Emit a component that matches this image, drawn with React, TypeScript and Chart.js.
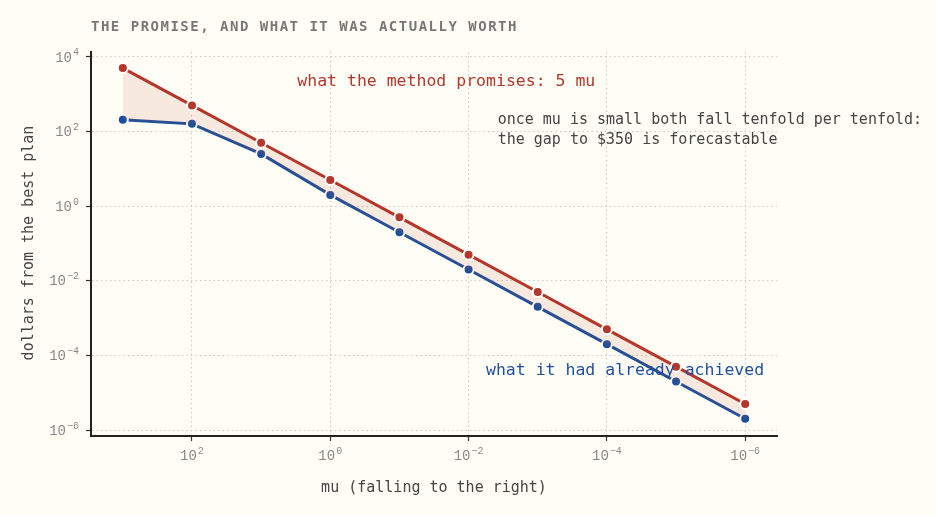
import React, { useEffect, useRef } from 'react'
import Chart, { ChartConfiguration, Plugin } from 'chart.js/auto'

// mu values, falling to the right
const mu = [1e3, 1e2, 1e1, 1e0, 1e-1, 1e-2, 1e-3, 1e-4, 1e-5, 1e-6]
// what the method promises: 5 * mu
const promised = [5000, 500, 50, 5, 0.5, 0.05, 0.005, 5e-4, 5e-5, 5e-6]
// what it had already achieved
const achieved = [205, 160, 25, 2, 0.2, 0.02, 0.002, 2e-4, 2e-5, 2e-6]

const yTicks = [1e4, 1e2, 1e0, 1e-2, 1e-4, 1e-6]
const xTicks = [1e2, 1e0, 1e-2, 1e-4, 1e-6]

const RED = '#b5362a'
const BLUE = '#1f4f9b'
const BG = '#fffef6'
const MONO = '"DejaVu Sans Mono", monospace'
const TICK_FONT = '"Liberation Mono", monospace'

const exponent = (v: number) => String(Math.round(Math.log10(v))).replace('-', '\u2212')

// draws "10" with a small raised exponent; align = 'right' or 'center'
const drawPow = (ctx: CanvasRenderingContext2D, v: number, px: number, py: number, align: 'right' | 'center') => {
  const exp = exponent(v)
  ctx.font = `14px ${TICK_FONT}`
  const bw = ctx.measureText('10').width
  ctx.font = `10px ${TICK_FONT}`
  const ew = ctx.measureText(exp).width
  const total = bw + ew + 1
  const left = align === 'right' ? px - total : px - total / 2
  ctx.textAlign = 'left'
  ctx.textBaseline = 'middle'
  ctx.font = `14px ${TICK_FONT}`
  ctx.fillText('10', left, py)
  ctx.font = `10px ${TICK_FONT}`
  ctx.fillText(exp, left + bw + 1, py - 5)
}

const decor: Plugin<'line'> = {
  id: 'decor',
  beforeDraw(chart) {
    const { ctx, width, height } = chart
    ctx.save()
    ctx.fillStyle = BG
    ctx.fillRect(0, 0, width, height)
    ctx.restore()
  },
  afterDraw(chart) {
    const { ctx, scales } = chart
    const x = scales.x
    const y = scales.y
    ctx.save()

    // tick labels
    ctx.fillStyle = '#888'
    yTicks.forEach(v => drawPow(ctx, v, 79, y.getPixelForValue(v) + 1, 'right'))
    xTicks.forEach(v => drawPow(ctx, v, x.getPixelForValue(v), 456, 'center'))

    ctx.textBaseline = 'middle'

    // title
    ctx.fillStyle = '#777'
    ctx.font = `bold 14px ${MONO}`
    ;(ctx as any).letterSpacing = '1.5px'
    ctx.textAlign = 'left'
    ctx.fillText('THE PROMISE, AND WHAT IT WAS ACTUALLY WORTH', 91, 27)
    ;(ctx as any).letterSpacing = '0px'

    // axis titles
    ctx.fillStyle = '#444'
    ctx.font = `15px ${MONO}`
    ctx.textAlign = 'center'
    ctx.fillText('mu (falling to the right)', 434, 488)
    ctx.save()
    ctx.translate(29, 243)
    ctx.rotate(-Math.PI / 2)
    ctx.fillText('dollars from the best plan', 0, 0)
    ctx.restore()

    // annotations
    ctx.textAlign = 'left'
    ctx.font = `16.5px ${MONO}`
    ctx.fillStyle = RED
    ctx.fillText('what the method promises: 5 mu', x.getPixelForValue(3), y.getPixelForValue(2150))
    ctx.fillStyle = BLUE
    ctx.fillText('what it had already achieved', x.getPixelForValue(5.6e-3), y.getPixelForValue(4e-5))
    ctx.fillStyle = '#444'
    ctx.font = `15px ${MONO}`
    ctx.fillText('once mu is small both fall tenfold per tenfold:', x.getPixelForValue(3.8e-3), y.getPixelForValue(200))
    ctx.fillText('the gap to $350 is forecastable', x.getPixelForValue(3.8e-3), y.getPixelForValue(60))
    ctx.restore()
  }
}

const App: React.FC = () => {
  const chartRef = useRef<HTMLCanvasElement | null>(null)

  useEffect(() => {
    document.body.style.margin = '0'
    if (!chartRef.current) return

    const grid = {
      color: '#c9c9c9',
      lineWidth: 1,
      tickColor: '#333',
      tickLength: 5,
      tickWidth: 1.2,
      tickBorderDash: []
    }

    const config: ChartConfiguration<'line'> = {
      type: 'line',
      data: {
        labels: mu,
        datasets: [
          {
            label: 'promised',
            data: mu.map((m, i) => ({ x: m, y: promised[i] })),
            borderColor: RED,
            backgroundColor: 'rgba(190, 90, 60, 0.13)',
            pointBackgroundColor: RED,
            pointBorderColor: '#ffffff',
            pointBorderWidth: 2,
            pointRadius: 5,
            borderWidth: 3,
            fill: '+1'
          },
          {
            label: 'achieved',
            data: mu.map((m, i) => ({ x: m, y: achieved[i] })),
            borderColor: BLUE,
            backgroundColor: BLUE,
            pointBackgroundColor: BLUE,
            pointBorderColor: '#ffffff',
            pointBorderWidth: 2,
            pointRadius: 5,
            borderWidth: 3,
            fill: false
          }
        ]
      },
      options: {
        animation: false,
        responsive: false,
        layout: { padding: { left: 0, top: 52, right: 159, bottom: 0 } },
        plugins: {
          legend: { display: false },
          tooltip: { enabled: false }
        },
        scales: {
          x: {
            type: 'logarithmic',
            reverse: true,
            min: Math.pow(10, -6.46),
            max: Math.pow(10, 3.46),
            afterBuildTicks: (s: any) => { s.ticks = xTicks.map(v => ({ value: v })) },
            afterFit: (s: any) => { s.height = 79 },
            ticks: { display: false, autoSkip: false },
            grid,
            border: { color: '#222', width: 2, dash: [1.5, 3] }
          },
          y: {
            type: 'logarithmic',
            min: Math.pow(10, -6.16),
            max: Math.pow(10, 4.13),
            afterBuildTicks: (s: any) => { s.ticks = yTicks.map(v => ({ value: v })) },
            afterFit: (s: any) => { s.width = 91 },
            ticks: { display: false, autoSkip: false },
            grid,
            border: { color: '#222', width: 2, dash: [1.5, 3] }
          }
        }
      },
      plugins: [decor]
    }

    const chart = new Chart(chartRef.current, config)
    return () => chart.destroy()
  }, [])

  return (
    <div style={{ width: 936, height: 515, background: BG }}>
      <canvas ref={chartRef} width={936} height={515} style={{ display: 'block', width: 936, height: 515 }} />
    </div>
  )
}

export default App
